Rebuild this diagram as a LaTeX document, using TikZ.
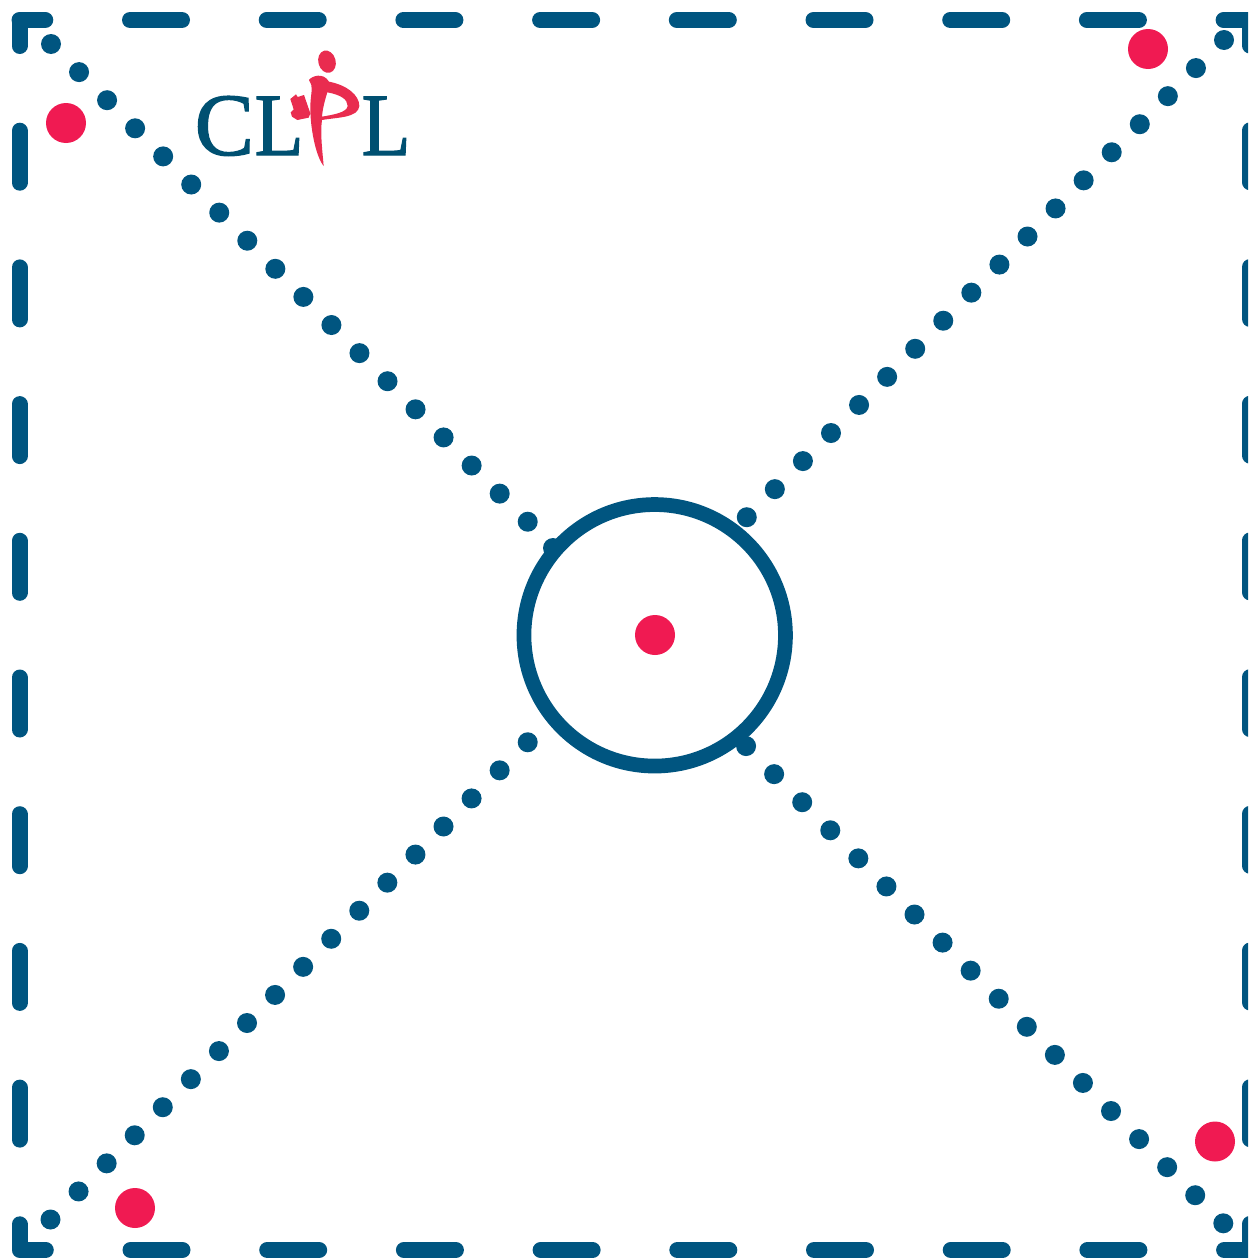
\documentclass[tikz,border=0pt]{standalone}
\usepackage{fontspec}
\setmainfont{Liberation Serif}
\newfontfamily\logofont[FakeBold=1.4]{Liberation Serif}
\definecolor{frameblue}{RGB}{0, 85, 128}
\definecolor{dotred}{RGB}{240, 26, 82}
\definecolor{logoblue}{RGB}{0, 80, 113}
\definecolor{logored}{RGB}{233, 44, 79}

\begin{document}
\begin{tikzpicture}[
  x=1pt, y=-1pt,
  framebox/.style={draw=frameblue, line width=16pt, line cap=round, line join=round, dash pattern=on 52pt off 84.7pt, dash phase=26pt},
  dotline/.style={draw=frameblue, line width=20pt, line cap=round, dash pattern=on 0pt off 39.7pt},
  reddot/.style={circle, fill=dotred, minimum size=40pt, inner sep=0pt},
  bluedot/.style={circle, fill=frameblue, minimum size=20pt, inner sep=0pt},
  hub/.style={circle, draw=frameblue, fill=white, line width=14.7pt, minimum size=261.5pt, inner sep=0pt},
  logotext/.style={anchor=base west, inner sep=0pt, text=logoblue, font=\logofont\fontsize{89}{89}\selectfont}
]
  \useasboundingbox (0, 0) rectangle (1248, 1258);
  \clip (0, 0) rectangle (1248, 1258);

  \coordinate (cornerA) at (19.5, 20);
  \coordinate (cornerB) at (1250, 1250);
  \draw[framebox] (cornerA) rectangle (cornerB);

  % dotted diagonals
  \coordinate (tlouter) at (51, 44);
  \coordinate (tlinner) at (528, 522);
  \coordinate (trouter) at (1224, 40);
  \coordinate (trinner) at (746, 518);
  \coordinate (blouter) at (50.5, 1219.5);
  \coordinate (blinner) at (528, 742);
  \coordinate (brouter) at (1223.3, 1223.3);
  \coordinate (brinner) at (746, 746);
  \draw[dotline] (tlouter) -- (tlinner);
  \draw[dotline] (trouter) -- (trinner);
  \draw[dotline] (blouter) -- (blinner);
  \draw[dotline] (brouter) -- (brinner);
  \node[bluedot] (tlstub) at (553, 548) {};

  \node[hub] (ring) at (654.7, 635.3) {};
  \node[reddot] (centre) at (655, 635) {};
  \node[reddot] (tldot) at (66, 123) {};
  \node[reddot] (trdot) at (1148, 49) {};
  \node[reddot] (brdot) at (1215, 1141.5) {};
  \node[reddot] (bldot) at (135, 1208) {};

  % logo
  \node[logotext] (logoC) at (194.5, 155) {C};
  \node[logotext, xscale=.9] (logoL) at (254.5, 155) {L};
  \node[logotext, xscale=.9] (logoR) at (361.5, 155) {L};
  \begin{scope}[shift={(170, 30)}, scale=1/3]
    \fill[logored, rotate around={15:(471, 95)}] (471, 95) ellipse (26 and 34);
    \fill[logored, even odd rule]
      (417, 150) .. controls (425, 138) and (460, 126) .. (477, 155)
      .. controls (530, 165) and (568, 195) .. (568, 228)
      .. controls (565, 264) and (500, 262) .. (456, 270)
      .. controls (450, 310) and (458, 370) .. (461, 408)
      .. controls (438, 380) and (422, 300) .. (421, 240)
      .. controls (420, 205) and (428, 180) .. (424, 165) -- cycle
      (472, 187) .. controls (510, 194) and (533, 207) .. (533, 228)
      .. controls (530, 248) and (490, 254) .. (456, 260)
      .. controls (458, 235) and (465, 210) .. (472, 187) -- cycle;
    \fill[logored] (361, 207) -- (378, 193) -- (383, 201) -- (402, 195)
      -- (421, 250) -- (416, 263) -- (382, 270) -- (366, 260) -- (362, 247)
      -- (371, 238) -- cycle;
  \end{scope}
\end{tikzpicture}
\end{document}
